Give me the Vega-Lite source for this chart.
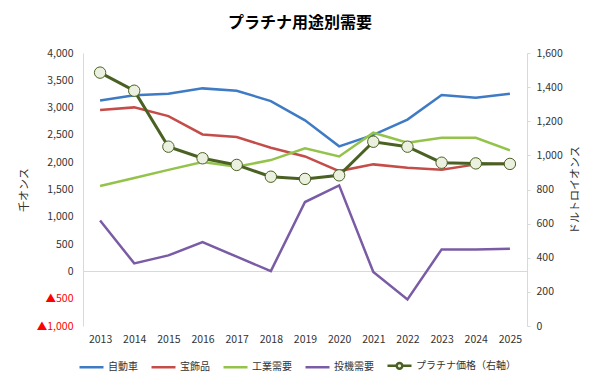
{
  "$schema": "https://vega.github.io/schema/vega-lite/v6.json",
  "width": 444,
  "height": 273,
  "autosize": {"type": "none"},
  "padding": {"left": 83, "top": 53, "right": 73, "bottom": 58},
  "background": "white",
  "config": {
    "font": "Noto Sans CJK JP",
    "view": {"stroke": null},
    "axis": {"labelFont": "Noto Sans CJK JP", "titleFont": "Noto Sans CJK JP", "labelColor": "#333333", "titleColor": "#333333", "labelFontSize": 10.5, "titleFontSize": 11, "titleFontWeight": "normal"}
  },
  "title": {"text": "プラチナ用途別需要", "fontSize": 16, "fontWeight": "bold", "font": "Noto Sans CJK JP", "color": "#000000", "offset": 17, "dx": -5},
  "datasets": {
    "demand": [
      {"year": "2013", "series": "自動車", "value": 3132},
      {"year": "2014", "series": "自動車", "value": 3225},
      {"year": "2015", "series": "自動車", "value": 3254},
      {"year": "2016", "series": "自動車", "value": 3352},
      {"year": "2017", "series": "自動車", "value": 3309},
      {"year": "2018", "series": "自動車", "value": 3120},
      {"year": "2019", "series": "自動車", "value": 2766},
      {"year": "2020", "series": "自動車", "value": 2290},
      {"year": "2021", "series": "自動車", "value": 2500},
      {"year": "2022", "series": "自動車", "value": 2780},
      {"year": "2023", "series": "自動車", "value": 3230},
      {"year": "2024", "series": "自動車", "value": 3181},
      {"year": "2025", "series": "自動車", "value": 3254},
      {"year": "2013", "series": "宝飾品", "value": 2955},
      {"year": "2014", "series": "宝飾品", "value": 3004},
      {"year": "2015", "series": "宝飾品", "value": 2845},
      {"year": "2016", "series": "宝飾品", "value": 2509},
      {"year": "2017", "series": "宝飾品", "value": 2460},
      {"year": "2018", "series": "宝飾品", "value": 2265},
      {"year": "2019", "series": "宝飾品", "value": 2105},
      {"year": "2020", "series": "宝飾品", "value": 1837},
      {"year": "2021", "series": "宝飾品", "value": 1960},
      {"year": "2022", "series": "宝飾品", "value": 1899},
      {"year": "2023", "series": "宝飾品", "value": 1860},
      {"year": "2024", "series": "宝飾品", "value": 1960},
      {"year": "2025", "series": "宝飾品", "value": 1978},
      {"year": "2013", "series": "工業需要", "value": 1563},
      {"year": "2014", "series": "工業需要", "value": 1710},
      {"year": "2015", "series": "工業需要", "value": 1860},
      {"year": "2016", "series": "工業需要", "value": 2002},
      {"year": "2017", "series": "工業需要", "value": 1917},
      {"year": "2018", "series": "工業需要", "value": 2039},
      {"year": "2019", "series": "工業需要", "value": 2253},
      {"year": "2020", "series": "工業需要", "value": 2105},
      {"year": "2021", "series": "工業需要", "value": 2540},
      {"year": "2022", "series": "工業需要", "value": 2357},
      {"year": "2023", "series": "工業需要", "value": 2448},
      {"year": "2024", "series": "工業需要", "value": 2448},
      {"year": "2025", "series": "工業需要", "value": 2216},
      {"year": "2013", "series": "投機需要", "value": 934},
      {"year": "2014", "series": "投機需要", "value": 147},
      {"year": "2015", "series": "投機需要", "value": 293},
      {"year": "2016", "series": "投機需要", "value": 537},
      {"year": "2017", "series": "投機需要", "value": 269},
      {"year": "2018", "series": "投機需要", "value": 6},
      {"year": "2019", "series": "投機需要", "value": 1270},
      {"year": "2020", "series": "投機需要", "value": 1575},
      {"year": "2021", "series": "投機需要", "value": -12},
      {"year": "2022", "series": "投機需要", "value": -513},
      {"year": "2023", "series": "投機需要", "value": 403},
      {"year": "2024", "series": "投機需要", "value": 403},
      {"year": "2025", "series": "投機需要", "value": 416}
    ],
    "price": [
      {"year": "2013", "series": "プラチナ価格（右軸）", "price": 1485},
      {"year": "2014", "series": "プラチナ価格（右軸）", "price": 1379},
      {"year": "2015", "series": "プラチナ価格（右軸）", "price": 1051},
      {"year": "2016", "series": "プラチナ価格（右軸）", "price": 983},
      {"year": "2017", "series": "プラチナ価格（右軸）", "price": 944},
      {"year": "2018", "series": "プラチナ価格（右軸）", "price": 875},
      {"year": "2019", "series": "プラチナ価格（右軸）", "price": 862},
      {"year": "2020", "series": "プラチナ価格（右軸）", "price": 883},
      {"year": "2021", "series": "プラチナ価格（右軸）", "price": 1080},
      {"year": "2022", "series": "プラチナ価格（右軸）", "price": 1051},
      {"year": "2023", "series": "プラチナ価格（右軸）", "price": 957},
      {"year": "2024", "series": "プラチナ価格（右軸）", "price": 953},
      {"year": "2025", "series": "プラチナ価格（右軸）", "price": 950}
    ]
  },
  "encoding": {
    "x": {"field": "year", "type": "ordinal", "axis": {"title": null, "domain": false, "ticks": false, "labelAngle": 0, "labelPadding": 8, "grid": false}}
  },
  "layer": [
    {
      "data": {"name": "demand"},
      "mark": {"type": "line", "strokeWidth": 2.5},
      "encoding": {
        "y": {"field": "value", "type": "quantitative", "scale": {"domain": [-1000, 4000], "nice": false},
          "axis": {"title": "千オンス", "values": [-1000, -500, 0, 500, 1000, 1500, 2000, 2500, 3000, 3500, 4000],
            "labelExpr": "datum.value < 0 ? '▲' + format(-datum.value, ',') : format(datum.value, ',')",
            "labelColor": {"condition": {"test": "datum.value < 0", "value": "#ff0000"}, "value": "#333333"},
            "domainColor": "#d9d9d9", "ticks": false, "labelPadding": 10, "titlePadding": 7,
            "grid": true, "gridColor": "#d9d9d9", "gridOpacity": {"condition": {"test": "datum.value === 0", "value": 1}, "value": 0}}},
        "color": {"field": "series", "type": "nominal",
          "scale": {"domain": ["自動車", "宝飾品", "工業需要", "投機需要", "プラチナ価格（右軸）"], "range": ["#3f7bc4", "#c44d4a", "#94c34b", "#7a5ca5", "#4a6123"]},
          "legend": {"title": null, "orient": "none", "direction": "horizontal", "legendX": -5, "legendY": 299,
            "symbolType": "stroke", "symbolSize": 576, "symbolStrokeWidth": 2.5, "labelFontSize": 10, "labelColor": "#333333",
            "labelFont": "Noto Sans CJK JP", "columnPadding": 8, "labelOffset": 3,
            "encode": {"symbols": {"update": {
              "shape": {"signal": "datum.value === 'プラチナ価格（右軸）' ? 'M-1,0L-0.24,0M0.24,0L1,0M-0.24,0A0.24,0.24,0,1,1,0.24,0A0.24,0.24,0,1,1,-0.24,0Z' : 'stroke'"},
              "fill": {"signal": "datum.value === 'プラチナ価格（右軸）' ? '#ebf1de' : 'transparent'"}
            }}}}}
      }
    },
    {
      "data": {"name": "price"},
      "encoding": {
        "y": {"field": "price", "type": "quantitative", "scale": {"domain": [0, 1600], "nice": false},
          "axis": {"title": "ドルトロイオンス", "orient": "right", "values": [0, 200, 400, 600, 800, 1000, 1200, 1400, 1600], "format": ",.0f",
            "domainColor": "#d9d9d9", "tickColor": "#d9d9d9", "tickSize": 3, "labelPadding": 6, "titlePadding": 18, "titleAngle": 270, "grid": false}}
      },
      "layer": [
        {"mark": {"type": "line", "strokeWidth": 3}, "encoding": {"color": {"field": "series", "type": "nominal"}}},
        {"mark": {"type": "point", "filled": true, "fill": "#ebf1de", "stroke": "#4a6123", "strokeWidth": 1, "size": 130, "opacity": 1}}
      ]
    }
  ],
  "resolve": {"scale": {"y": "independent"}}
}
